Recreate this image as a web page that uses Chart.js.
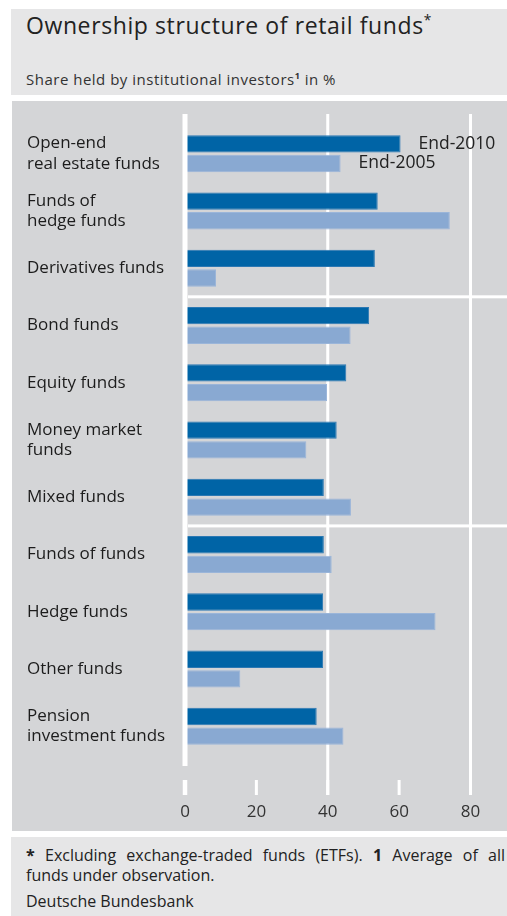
<!DOCTYPE html>
<html>
<head>
<meta charset="utf-8">
<script src="https://cdn.jsdelivr.net/npm/chart.js@4"></script>
<style>
  body { margin: 0; background: #fff; font-family: 'Open Sans', sans-serif; color: #222; }
  .band { position: absolute; left: 11px; width: 496px; background: #e6e6e7; }
  .head { top: 9px; height: 86px; }
  .foot { top: 837px; height: 79px; }
  .panel { position: absolute; left: 12px; top: 101px; width: 495px; height: 730px; background: #d4d5d7; }
  .txt { position: absolute; left: 26px; white-space: nowrap; }
  .title { top: 14px; font-size: 23px; line-height: 23px; letter-spacing: 0.6px; }
  .sub { top: 72px; font-size: 15px; line-height: 15px; letter-spacing: 0.5px; color: #333; }
  .note { font-size: 16px; line-height: 19px; color: #222; }
  .just { width: 479px; text-align: justify; text-align-last: justify; }
  sup { font-size: 60%; line-height: 0; }
</style>
</head>
<body>
<div class="band head"></div>
<div class="txt title">Ownership structure of retail funds<sup>*</sup></div>
<div class="txt sub">Share held by institutional investors<sup><b>1</b></sup> in %</div>
<div class="panel"><canvas id="chart" width="495" height="730"></canvas></div>
<div class="band foot"></div>
<div class="txt note just" style="top:846px"><b>*</b> Excluding exchange-traded funds (ETFs). <b>1</b> Average of all</div>
<div class="txt note" style="top:866px">funds under observation.</div>
<div class="txt note" style="top:892px">Deutsche Bundesbank</div>
<script>
// categories top to bottom, values in %
const categories = [
  ['Open-end', 'real estate funds'],
  ['Funds of', 'hedge funds'],
  'Derivatives funds',
  'Bond funds',
  'Equity funds',
  ['Money market', 'funds'],
  'Mixed funds',
  'Funds of funds',
  'Hedge funds',
  'Other funds',
  ['Pension', 'investment funds']
];
const seriesNames = ['End-2010', 'End-2005'];
const end2010 = [60.4, 54.0, 53.2, 51.6, 45.2, 42.5, 38.9, 38.9, 38.7, 38.7, 36.9];
const end2005 = [43.6, 74.2, 8.7, 46.4, 39.8, 34.0, 46.5, 41.1, 70.2, 15.5, 44.4];
const xTicks = [0, 20, 40, 60, 80];
const gridAt = [40, 80];
const groupBreaks = [2, 6]; // white rule after these categories

const FONT = 'Open Sans';

// white rules, ticks and the series labels next to the first bars
const panelLines = {
  id: 'panelLines',
  beforeDatasetsDraw(chart) {
    const { ctx, chartArea: a, scales: { x, y } } = chart;
    ctx.save();
    ctx.fillStyle = '#fff';
    gridAt.forEach(v => {
      const px = x.getPixelForValue(v);
      ctx.fillRect(px - 1.5, a.top - 11, 3, a.bottom - a.top + 51);
    });
    xTicks.forEach(v => {
      const px = x.getPixelForValue(v);
      const w = v === 0 ? 4.5 : 3;
      ctx.fillRect(px - w / 2, a.bottom + 25, w, 15);
    });
    groupBreaks.forEach(i => {
      const py = (y.getPixelForValue(i) + y.getPixelForValue(i + 1)) / 2;
      const x0 = x.getPixelForValue(0) + 3;
      ctx.fillRect(x0, py - 1.5, chart.width - x0, 3);
    });
    ctx.restore();
  },
  afterDatasetsDraw(chart) {
    const { ctx, chartArea: a, scales: { x } } = chart;
    ctx.save();
    ctx.fillStyle = '#fff';
    const px = x.getPixelForValue(0);
    ctx.fillRect(px - 2.5, a.top - 11, 5, a.bottom - a.top + 22);
    ctx.fillStyle = '#222';
    ctx.font = '17.5px "' + FONT + '"';
    ctx.textBaseline = 'middle';
    seriesNames.forEach((name, d) => {
      const bar = chart.getDatasetMeta(d).data[0];
      ctx.fillText(name, bar.x + 18, bar.y);
    });
    ctx.restore();
  }
};

new Chart(document.getElementById('chart'), {
  type: 'bar',
  data: {
    labels: categories,
    datasets: [
      { label: seriesNames[0], data: end2010, backgroundColor: '#0064a6', borderColor: '#2b78b3', borderWidth: 1 },
      { label: seriesNames[1], data: end2005, backgroundColor: '#89a9d2', borderColor: '#9ab5d9', borderWidth: 1 }
    ]
  },
  options: {
    indexAxis: 'y',
    responsive: false,
    animation: false,
    events: [],
    layout: { padding: { top: 24, right: 36.5, left: 15, bottom: 0 } },
    datasets: { bar: { categoryPercentage: 0.686, barPercentage: 0.883 } },
    plugins: { legend: { display: false }, tooltip: { enabled: false } },
    scales: {
      x: {
        min: 0, max: 80,
        afterFit: s => { s.height = 76; s.paddingLeft = 0; s.paddingRight = 0; },
        grid: { display: false, drawTicks: false },
        border: { display: false },
        ticks: { stepSize: 20, padding: 47, color: '#333', font: { family: FONT, size: 17 } }
      },
      y: {
        afterFit: s => { s.width = 158; },
        grid: { display: false, drawTicks: false },
        border: { display: false },
        ticks: { crossAlign: 'far', padding: 0, color: '#1c1c1c', font: { family: FONT, size: 17 } }
      }
    }
  },
  plugins: [panelLines]
});
</script>
</body>
</html>
